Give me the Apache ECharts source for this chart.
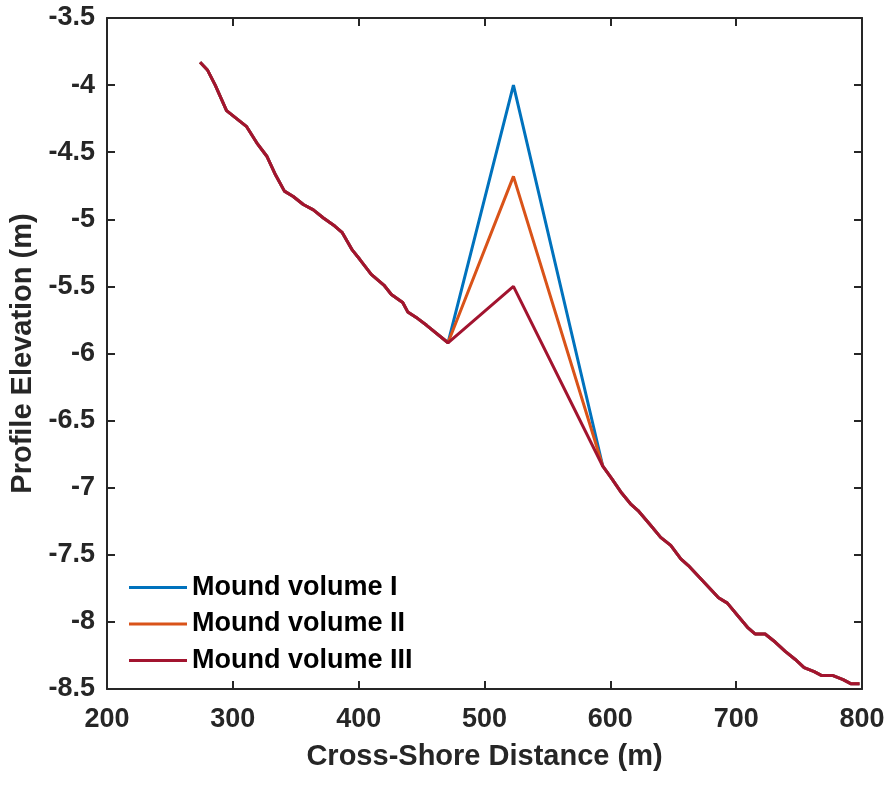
<!DOCTYPE html>
<html>
<head>
<meta charset="utf-8">
<script src="https://cdn.jsdelivr.net/npm/echarts@6/dist/echarts.min.js"></script>
<style>html,body{margin:0;padding:0;background:#fff;}#c{width:893px;height:785px;}</style>
</head>
<body>
<div id="c"></div>
<script>
// Base beach profile (shared by all series), left of mound
var baseLeftX = [274,280,286,295,303,311,319,327,334,341,348,356,364,372,381,387,395,401,410,420,426,435,439,447,454,471];
var baseLeftY = [-3.83,-3.89,-4.00,-4.19,-4.25,-4.31,-4.43,-4.53,-4.67,-4.79,-4.83,-4.89,-4.93,-4.99,-5.05,-5.10,-5.23,-5.30,-5.41,-5.49,-5.56,-5.62,-5.69,-5.74,-5.79,-5.92];
// Base profile right of mound
var baseRightX = [594,601,609,616,622,632,640,648,656,662,670,678,686,693,701,709,715,723,731,739,747,754,762,768,777,785,791,798];
var baseRightY = [-6.84,-6.93,-7.04,-7.12,-7.17,-7.28,-7.37,-7.43,-7.53,-7.58,-7.66,-7.74,-7.82,-7.86,-7.95,-8.04,-8.09,-8.09,-8.15,-8.22,-8.28,-8.34,-8.37,-8.40,-8.40,-8.43,-8.46,-8.46];
// Mound crest
var crestX = 523;
var seriesNames = ['Mound volume I','Mound volume II','Mound volume III'];
var crestY = [-4.00, -4.68, -5.50];
var colors = ['#0072BD','#D95319','#A2142F'];
var xTicks = [200,300,400,500,600,700,800];
var yTicks = [-8.5,-8,-7.5,-7,-6.5,-6,-5.5,-5,-4.5,-4,-3.5];

function buildData(peak){
  var d = [];
  for (var i=0;i<baseLeftX.length;i++) d.push([baseLeftX[i], baseLeftY[i]]);
  d.push([crestX, peak]);
  for (var j=0;j<baseRightX.length;j++) d.push([baseRightX[j], baseRightY[j]]);
  return d;
}

var FONT = "'Liberation Sans', Arial, Helvetica, sans-serif";
var AX = '#262626';
var chart = echarts.init(document.getElementById('c'), null, {renderer:'canvas'});
var series = seriesNames.map(function(n,i){
  return {name:n, type:'line', data:buildData(crestY[i]), symbol:'none', showSymbol:false,
    lineStyle:{width:3,color:colors[i]}, itemStyle:{color:colors[i]}, xAxisIndex:0, yAxisIndex:0};
});
var commonTick = {show:true, inside:true, length:8, lineStyle:{color:AX, width:2}};
chart.setOption({
  animation:false,
  backgroundColor:'#fff',
  textStyle:{fontFamily:FONT},
  grid:{left:107,right:31,top:18,bottom:96,containLabel:false,outerBoundsMode:'none'},
  legend:{
    orient:'vertical', left:124, top:569, itemWidth:58, itemHeight:3, itemGap:9.5,
    icon:'rect', data:seriesNames,
    textStyle:{fontSize:27,fontWeight:'bold',color:'#000',fontFamily:FONT,lineHeight:27}
  },
  xAxis:[{
    type:'value', min:xTicks[0], max:xTicks[xTicks.length-1], interval:100, position:'bottom',
    name:'Cross-Shore Distance (m)', nameLocation:'middle', nameGap:53,
    nameTextStyle:{fontSize:29,fontWeight:'bold',color:AX,fontFamily:FONT},
    axisLine:{show:true,onZero:false,lineStyle:{color:AX,width:2}},
    axisTick:commonTick, splitLine:{show:false},
    axisLabel:{fontSize:27,fontWeight:'bold',color:AX,margin:17,fontFamily:FONT}
  },{
    type:'value', min:xTicks[0], max:xTicks[xTicks.length-1], interval:100, position:'top',
    axisLine:{show:true,onZero:false,lineStyle:{color:AX,width:2}},
    axisTick:commonTick, axisLabel:{show:false}, splitLine:{show:false}
  }],
  yAxis:[{
    type:'value', min:yTicks[0], max:yTicks[yTicks.length-1], interval:0.5, position:'left',
    name:'Profile Elevation (m)', nameLocation:'middle', nameGap:67, nameRotate:90,
    nameTextStyle:{fontSize:29,fontWeight:'bold',color:AX,fontFamily:FONT},
    axisLine:{show:true,onZero:false,lineStyle:{color:AX,width:2}},
    axisTick:commonTick, splitLine:{show:false},
    axisLabel:{fontSize:27,fontWeight:'bold',color:AX,margin:12,fontFamily:FONT}
  },{
    type:'value', min:yTicks[0], max:yTicks[yTicks.length-1], interval:0.5, position:'right',
    axisLine:{show:true,onZero:false,lineStyle:{color:AX,width:2}},
    axisTick:commonTick, axisLabel:{show:false}, splitLine:{show:false}
  }],
  series:series
});
</script>
</body>
</html>
